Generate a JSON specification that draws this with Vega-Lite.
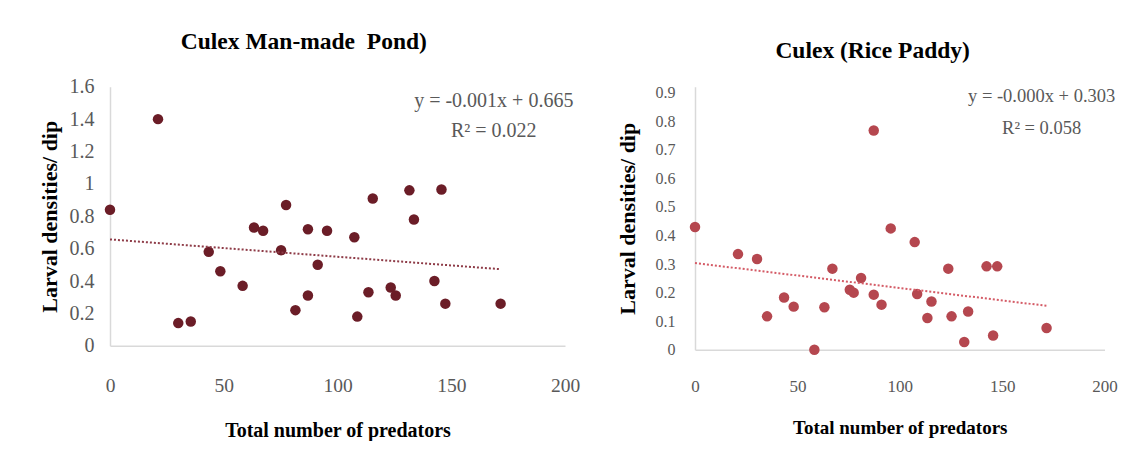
{
  "$schema": "https://vega.github.io/schema/vega-lite/v6.json",
  "background": "white",
  "padding": {"left": 38, "top": 29.75, "right": 0, "bottom": 0},
  "spacing": 36,
  "config": {
    "view": {"stroke": null},
    "font": "Liberation Serif",
    "axis": {"grid": false, "ticks": false, "labelFlush": false, "labelOverlap": false, "labelBound": false, "domainColor": "#d9d9d9", "domainWidth": 1.5, "labelColor": "#595959", "labelFont": "Liberation Serif", "titleFont": "Liberation Serif", "titleColor": "#000000", "titleFontWeight": "bold"},
    "title": {"font": "Liberation Serif", "fontWeight": "bold", "color": "#000000", "anchor": "middle", "frame": "bounds"}
  },
  "datasets": {
    "pond": [
      {"predators": 0, "density": 0.84},
      {"predators": 21.1, "density": 1.40},
      {"predators": 30, "density": 0.14},
      {"predators": 35.5, "density": 0.15},
      {"predators": 43.4, "density": 0.58},
      {"predators": 48.5, "density": 0.46},
      {"predators": 58.3, "density": 0.37},
      {"predators": 63.3, "density": 0.73},
      {"predators": 67.3, "density": 0.71},
      {"predators": 75.2, "density": 0.59},
      {"predators": 77.4, "density": 0.87},
      {"predators": 81.5, "density": 0.22},
      {"predators": 87, "density": 0.72},
      {"predators": 87, "density": 0.31},
      {"predators": 91.3, "density": 0.50},
      {"predators": 95.4, "density": 0.71},
      {"predators": 107.4, "density": 0.67},
      {"predators": 108.7, "density": 0.18},
      {"predators": 113.6, "density": 0.33},
      {"predators": 115.5, "density": 0.91},
      {"predators": 123.4, "density": 0.36},
      {"predators": 125.6, "density": 0.31},
      {"predators": 131.6, "density": 0.96},
      {"predators": 133.6, "density": 0.78},
      {"predators": 142.6, "density": 0.40},
      {"predators": 145.7, "density": 0.965},
      {"predators": 147.4, "density": 0.26},
      {"predators": 171.7, "density": 0.26}
    ],
    "paddy": [
      {"predators": 0, "density": 0.43},
      {"predators": 21.0, "density": 0.335},
      {"predators": 30.3, "density": 0.318},
      {"predators": 35.2, "density": 0.117},
      {"predators": 43.5, "density": 0.183},
      {"predators": 48.2, "density": 0.151},
      {"predators": 58.3, "density": 0.0},
      {"predators": 63.2, "density": 0.149},
      {"predators": 67.1, "density": 0.284},
      {"predators": 75.6, "density": 0.21},
      {"predators": 77.5, "density": 0.20},
      {"predators": 81.1, "density": 0.251},
      {"predators": 87.3, "density": 0.768},
      {"predators": 87.3, "density": 0.193},
      {"predators": 91.1, "density": 0.158},
      {"predators": 95.6, "density": 0.425},
      {"predators": 107.3, "density": 0.377},
      {"predators": 108.5, "density": 0.195},
      {"predators": 113.5, "density": 0.111},
      {"predators": 115.5, "density": 0.169},
      {"predators": 123.7, "density": 0.284},
      {"predators": 125.3, "density": 0.117},
      {"predators": 131.5, "density": 0.027},
      {"predators": 133.4, "density": 0.134},
      {"predators": 142.4, "density": 0.292},
      {"predators": 145.6, "density": 0.050},
      {"predators": 147.6, "density": 0.292},
      {"predators": 171.7, "density": 0.076}
    ]
  },
  "hconcat": [
    {
      "width": 455,
      "height": 259,
      "title": {"text": "Culex Man-made\u00a0 Pond)", "fontSize": 23.5, "offset": 23.25, "dx": -5},
      "layer": [
        {
          "data": {"name": "pond"},
          "mark": {"type": "circle", "size": 110, "color": "#6b1d27", "opacity": 1},
          "encoding": {
            "x": {"field": "predators", "type": "quantitative", "scale": {"domain": [0, 200], "nice": false},
                  "axis": {"title": "Total number of predators", "values": [0, 50, 100, 150, 200], "labelOverlap": false, "labelFontSize": 19.5, "labelPadding": 31, "titleFontSize": 20, "titlePadding": 25}},
            "y": {"field": "density", "type": "quantitative", "scale": {"domain": [0, 1.6], "nice": false},
                  "axis": {"title": "Larval densities/ dip", "values": [0, 0.2, 0.4, 0.6, 0.8, 1, 1.2, 1.4, 1.6], "tickCount": 9, "labelOverlap": false, "format": "~g", "labelFontSize": 20, "labelPadding": 16, "titleFontSize": 22, "titlePadding": 8}}
          }
        },
        {
          "data": {"name": "pond"},
          "transform": [{"regression": "density", "on": "predators"}],
          "mark": {"type": "line", "color": "#8e3b47", "strokeWidth": 2, "strokeDash": [2, 2]},
          "encoding": {
            "x": {"field": "predators", "type": "quantitative"},
            "y": {"field": "density", "type": "quantitative"}
          }
        },
        {
          "data": {"values": [{}]},
          "mark": {"type": "text", "fontSize": 20, "color": "#595959", "font": "Liberation Serif", "baseline": "middle"},
          "encoding": {"x": {"datum": 168.7}, "y": {"datum": 1.513}, "text": {"value": "y = -0.001x + 0.665"}}
        },
        {
          "data": {"values": [{}]},
          "mark": {"type": "text", "fontSize": 20, "color": "#595959", "font": "Liberation Serif", "baseline": "middle"},
          "encoding": {"x": {"datum": 168.7}, "y": {"datum": 1.329}, "text": {"value": "R² = 0.022"}}
        }
      ]
    },
    {
      "width": 409.5,
      "height": 263,
      "title": {"text": "Culex (Rice Paddy)", "fontSize": 23.5, "offset": 22.25, "dx": 6},
      "layer": [
        {
          "data": {"name": "paddy"},
          "mark": {"type": "circle", "size": 110, "color": "#b5474f", "opacity": 1},
          "encoding": {
            "x": {"field": "predators", "type": "quantitative", "scale": {"domain": [0, 200], "nice": false},
                  "axis": {"title": "Total number of predators", "values": [0, 50, 100, 150, 200], "labelOverlap": false, "labelFontSize": 17, "labelPadding": 29, "titleFontSize": 19, "titlePadding": 24}},
            "y": {"field": "density", "type": "quantitative", "scale": {"domain": [0, 0.921], "nice": false},
                  "axis": {"title": "Larval densities/ dip", "values": [0, 0.1, 0.2, 0.3, 0.4, 0.5, 0.6, 0.7, 0.8, 0.9], "tickCount": 10, "labelOverlap": false, "format": "~g", "labelFontSize": 16, "labelPadding": 20, "titleFontSize": 22, "titlePadding": 16}}
          }
        },
        {
          "data": {"name": "paddy"},
          "transform": [{"regression": "density", "on": "predators"}],
          "mark": {"type": "line", "color": "#d45b66", "strokeWidth": 2, "strokeDash": [2, 2]},
          "encoding": {
            "x": {"field": "predators", "type": "quantitative"},
            "y": {"field": "density", "type": "quantitative"}
          }
        },
        {
          "data": {"values": [{}]},
          "mark": {"type": "text", "fontSize": 18.5, "color": "#595959", "font": "Liberation Serif", "baseline": "middle"},
          "encoding": {"x": {"datum": 169.3}, "y": {"datum": 0.887}, "text": {"value": "y = -0.000x + 0.303"}}
        },
        {
          "data": {"values": [{}]},
          "mark": {"type": "text", "fontSize": 18.5, "color": "#595959", "font": "Liberation Serif", "baseline": "middle"},
          "encoding": {"x": {"datum": 169.3}, "y": {"datum": 0.778}, "text": {"value": "R² = 0.058"}}
        }
      ]
    }
  ]
}
